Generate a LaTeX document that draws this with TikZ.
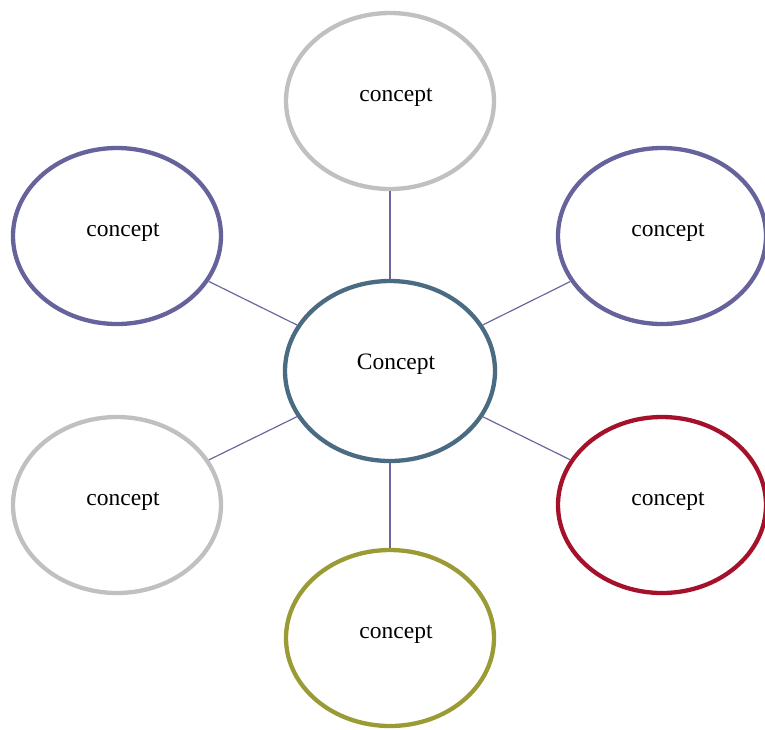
\documentclass[tikz,border=0pt]{standalone}
\usepackage{fontspec}
\setmainfont{Liberation Serif}
\usetikzlibrary{shapes.geometric}
\definecolor{cmain}{HTML}{4A6B82}
\definecolor{cpurple}{HTML}{66629C}
\definecolor{cred}{HTML}{A5112B}
\definecolor{colive}{HTML}{9B9B35}
\definecolor{cgray}{HTML}{C0C0C0}
\definecolor{cline}{HTML}{6C679F}
\begin{document}
\begin{tikzpicture}[x=1pt,y=-1pt,
  bub/.style={ellipse, draw=#1, line width=4.3pt, fill=white, inner sep=0pt,
    minimum width=208pt, minimum height=176pt},
  lbl/.style={font=\fontsize{23.5}{28}\selectfont, text=black},
  conn/.style={draw=cline, line width=1.2pt}]
\useasboundingbox (0,0) rectangle (765,729);
\node[bub=cmain, minimum width=210pt, minimum height=180pt] (c) at (390,371) {};
\node[bub=cgray] (t) at (390,101) {};
\node[bub=cpurple] (lt) at (117,236) {};
\node[bub=cpurple] (rt) at (662,236) {};
\node[bub=cgray] (lb) at (117,505) {};
\node[bub=cred] (rb) at (662,505) {};
\node[bub=colive] (b) at (390,638) {};
\foreach \n in {t,lt,rt,lb,rb,b}{
  \draw[conn] (c) -- (\n);
  \node[lbl] (txt\n) at ([xshift=6pt,yshift=4pt]\n.center) {concept};
}
\node[lbl] (txtc) at ([xshift=6pt,yshift=7pt]c.center) {Concept};
\end{tikzpicture}
\end{document}
